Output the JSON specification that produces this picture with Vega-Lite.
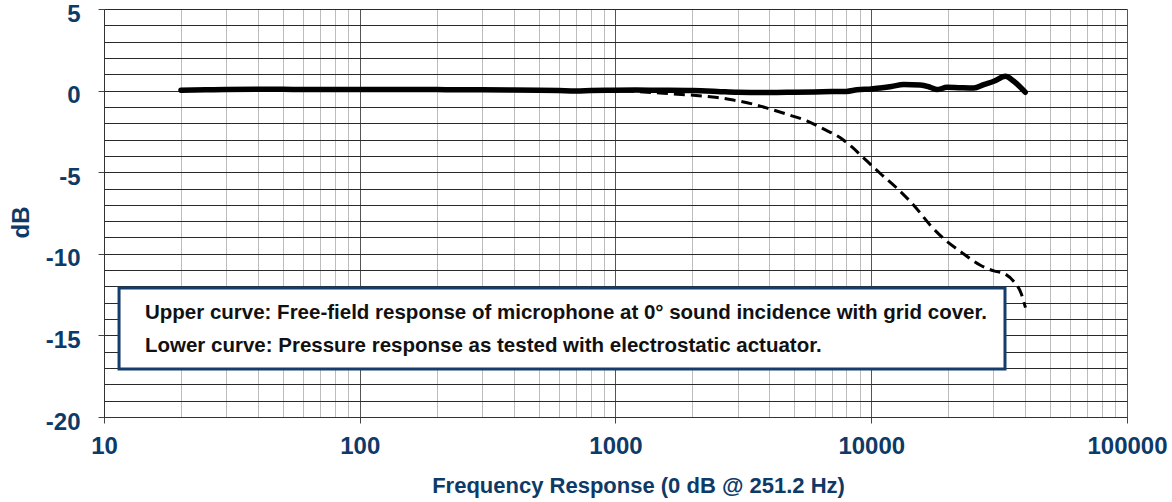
{
  "$schema": "https://vega.github.io/schema/vega-lite/v6.json",
  "width": 1023,
  "height": 408,
  "autosize": {"type": "none"},
  "padding": {"left": 104, "top": 9, "right": 45, "bottom": 85},
  "background": "white",
  "config": {"view": {"stroke": null}, "font": "Liberation Sans, sans-serif"},
  "datasets": {
    "curves": [
      {"curve": "upper", "freq": 20, "db": 0.02},
      {"curve": "upper", "freq": 25, "db": 0.05},
      {"curve": "upper", "freq": 30, "db": 0.07},
      {"curve": "upper", "freq": 40, "db": 0.08},
      {"curve": "upper", "freq": 50, "db": 0.08},
      {"curve": "upper", "freq": 60, "db": 0.06},
      {"curve": "upper", "freq": 80, "db": 0.06},
      {"curve": "upper", "freq": 100, "db": 0.07},
      {"curve": "upper", "freq": 150, "db": 0.07},
      {"curve": "upper", "freq": 200, "db": 0.06},
      {"curve": "upper", "freq": 251.2, "db": 0.05},
      {"curve": "upper", "freq": 300, "db": 0.05},
      {"curve": "upper", "freq": 400, "db": 0.04},
      {"curve": "upper", "freq": 500, "db": 0.02},
      {"curve": "upper", "freq": 600, "db": 0.0},
      {"curve": "upper", "freq": 700, "db": -0.02},
      {"curve": "upper", "freq": 800, "db": 0.0},
      {"curve": "upper", "freq": 1000, "db": 0.02},
      {"curve": "upper", "freq": 1200, "db": 0.03},
      {"curve": "upper", "freq": 1500, "db": 0.02},
      {"curve": "upper", "freq": 2000, "db": 0.0},
      {"curve": "upper", "freq": 2500, "db": -0.05},
      {"curve": "upper", "freq": 3000, "db": -0.1},
      {"curve": "upper", "freq": 4000, "db": -0.12},
      {"curve": "upper", "freq": 5000, "db": -0.1},
      {"curve": "upper", "freq": 6000, "db": -0.08},
      {"curve": "upper", "freq": 7000, "db": -0.06},
      {"curve": "upper", "freq": 8000, "db": -0.05},
      {"curve": "upper", "freq": 8800, "db": 0.05},
      {"curve": "upper", "freq": 10000, "db": 0.1},
      {"curve": "upper", "freq": 10840, "db": 0.16},
      {"curve": "upper", "freq": 12000, "db": 0.25},
      {"curve": "upper", "freq": 13390, "db": 0.37},
      {"curve": "upper", "freq": 15560, "db": 0.35},
      {"curve": "upper", "freq": 17020, "db": 0.2},
      {"curve": "upper", "freq": 18070, "db": 0.06},
      {"curve": "upper", "freq": 19770, "db": 0.2},
      {"curve": "upper", "freq": 22000, "db": 0.18},
      {"curve": "upper", "freq": 25170, "db": 0.16},
      {"curve": "upper", "freq": 27550, "db": 0.37},
      {"curve": "upper", "freq": 30150, "db": 0.57},
      {"curve": "upper", "freq": 33480, "db": 0.88},
      {"curve": "upper", "freq": 36090, "db": 0.57},
      {"curve": "upper", "freq": 40000, "db": -0.1},
      {"curve": "lower", "freq": 20, "db": 0.02},
      {"curve": "lower", "freq": 50, "db": 0.06},
      {"curve": "lower", "freq": 100, "db": 0.06},
      {"curve": "lower", "freq": 200, "db": 0.05},
      {"curve": "lower", "freq": 500, "db": 0.02},
      {"curve": "lower", "freq": 1000, "db": 0.0},
      {"curve": "lower", "freq": 1200, "db": -0.05},
      {"curve": "lower", "freq": 1492, "db": -0.15},
      {"curve": "lower", "freq": 1954, "db": -0.27},
      {"curve": "lower", "freq": 2500, "db": -0.42},
      {"curve": "lower", "freq": 2890, "db": -0.58},
      {"curve": "lower", "freq": 3500, "db": -0.85},
      {"curve": "lower", "freq": 4020, "db": -1.13},
      {"curve": "lower", "freq": 4800, "db": -1.5},
      {"curve": "lower", "freq": 5600, "db": -1.86},
      {"curve": "lower", "freq": 6500, "db": -2.35},
      {"curve": "lower", "freq": 7570, "db": -2.89},
      {"curve": "lower", "freq": 8400, "db": -3.45},
      {"curve": "lower", "freq": 9330, "db": -4.12},
      {"curve": "lower", "freq": 10800, "db": -5.05},
      {"curve": "lower", "freq": 12600, "db": -5.98},
      {"curve": "lower", "freq": 14800, "db": -7.1},
      {"curve": "lower", "freq": 17020, "db": -8.25},
      {"curve": "lower", "freq": 19190, "db": -9.07},
      {"curve": "lower", "freq": 22500, "db": -9.9},
      {"curve": "lower", "freq": 26720, "db": -10.7},
      {"curve": "lower", "freq": 30150, "db": -11.05},
      {"curve": "lower", "freq": 32980, "db": -11.2},
      {"curve": "lower", "freq": 36090, "db": -11.7},
      {"curve": "lower", "freq": 38500, "db": -12.4},
      {"curve": "lower", "freq": 40090, "db": -13.3}
    ]
  },
  "layer": [
    {
      "data": {"name": "curves"},
      "transform": [{"filter": "datum.curve === 'lower'"}],
      "mark": {"type": "line", "color": "black", "strokeWidth": 3, "strokeDash": [11, 6], "interpolate": "monotone"},
      "encoding": {
        "x": {
          "field": "freq",
          "type": "quantitative",
          "scale": {"type": "log", "domain": [10, 100000], "nice": false},
          "axis": {
            "title": "Frequency Response (0 dB @ 251.2 Hz)",
            "titleFont": "Liberation Sans, sans-serif",
            "titleFontSize": 22,
            "titleFontWeight": "bold",
            "titleColor": "#0e3a68",
            "titleX": 534,
            "titleY": 68,
            "titleAlign": "center",
            "titleBaseline": "middle",
            "values": [10, 20, 30, 40, 50, 60, 70, 80, 90, 100, 200, 300, 400, 500, 600, 700, 800, 900, 1000, 2000, 3000, 4000, 5000, 6000, 7000, 8000, 9000, 10000, 20000, 30000, 40000, 50000, 60000, 70000, 80000, 90000, 100000],
            "tickCount": 500,
            "labelExpr": "abs(log(datum.value)/LN10 - round(log(datum.value)/LN10)) < 0.001 ? '' + datum.value : ''",
            "labelFont": "Liberation Sans, sans-serif",
            "labelFontSize": 24,
            "labelFontWeight": "bold",
            "labelColor": "#0e3a68",
            "labelBaseline": "top",
            "labelPadding": 11,
            "labelOverlap": false,
            "labelFlush": false,
            "labelBound": false,
            "grid": true,
            "gridColor": {"condition": {"test": "abs(log(datum.value)/LN10 - round(log(datum.value)/LN10)) < 0.001", "value": "#555555"}, "value": "#bdbdbd"},
            "gridWidth": 1,
            "gridOpacity": 1,
            "ticks": true,
            "tickSize": 6,
            "tickColor": "#444",
            "tickOpacity": {"condition": {"test": "abs(log(datum.value)/LN10 - round(log(datum.value)/LN10)) < 0.001", "value": 1}, "value": 0},
            "domain": true,
            "domainColor": "#333",
            "domainWidth": 1
          }
        },
        "y": {
          "field": "db",
          "type": "quantitative",
          "scale": {"domain": [-20, 5], "nice": false, "zero": false},
          "axis": {
            "title": "dB",
            "titleFont": "Liberation Sans, sans-serif",
            "titleFontSize": 24,
            "titleFontWeight": "bold",
            "titleColor": "#0e3a68",
            "titleAngle": 270,
            "titleX": -83,
            "titleY": 213,
            "titleAlign": "center",
            "titleBaseline": "middle",
            "values": [-20, -19, -18, -17, -16, -15, -14, -13, -12, -11, -10, -9, -8, -7, -6, -5, -4, -3, -2, -1, 0, 1, 2, 3, 4, 5],
            "tickCount": 500,
            "labelExpr": "datum.value % 5 === 0 ? '' + datum.value : ''",
            "labelFont": "Liberation Sans, sans-serif",
            "labelFontSize": 24,
            "labelFontWeight": "bold",
            "labelColor": "#0e3a68",
            "labelBaseline": "middle",
            "labelOffset": 5,
            "labelPadding": 18,
            "labelOverlap": false,
            "labelFlush": false,
            "labelBound": false,
            "grid": true,
            "gridColor": "#2a2a2a",
            "gridWidth": 1,
            "gridOpacity": 1,
            "ticks": true,
            "tickSize": 6,
            "tickColor": "#444",
            "tickOpacity": {"condition": {"test": "datum.value % 5 === 0", "value": 1}, "value": 0},
            "domain": true,
            "domainColor": "#333",
            "domainWidth": 1
          }
        }
      }
    },
    {
      "data": {"name": "curves"},
      "transform": [{"filter": "datum.curve === 'upper'"}],
      "mark": {"type": "line", "color": "black", "strokeWidth": 5.5, "strokeCap": "round", "strokeJoin": "round", "interpolate": "monotone"},
      "encoding": {
        "x": {"field": "freq", "type": "quantitative"},
        "y": {"field": "db", "type": "quantitative"}
      }
    },
    {
      "data": {"values": [{}]},
      "mark": {"type": "rect", "fill": "white", "stroke": "#153d6b", "strokeWidth": 3},
      "encoding": {
        "x": {"datum": 11.45},
        "x2": {"datum": 33340},
        "y": {"datum": -12.1},
        "y2": {"datum": -17.06}
      }
    },
    {
      "data": {"values": [
        {"line": "Upper curve: Free-field response of microphone at 0° sound incidence with grid cover.", "order": 1},
        {"line": "Lower curve: Pressure response as tested with electrostatic actuator.", "order": 2}
      ]},
      "transform": [{"filter": "datum.order === 1"}],
      "mark": {"type": "text", "align": "left", "baseline": "middle", "font": "Liberation Sans, sans-serif", "fontSize": 20.5, "fontWeight": "bold", "color": "#111"},
      "encoding": {
        "x": {"datum": 14.46},
        "y": {"datum": -13.63},
        "text": {"field": "line"}
      }
    },
    {
      "data": {"values": [
        {"line": "Upper curve: Free-field response of microphone at 0° sound incidence with grid cover.", "order": 1},
        {"line": "Lower curve: Pressure response as tested with electrostatic actuator.", "order": 2}
      ]},
      "transform": [{"filter": "datum.order === 2"}],
      "mark": {"type": "text", "align": "left", "baseline": "middle", "font": "Liberation Sans, sans-serif", "fontSize": 20.5, "fontWeight": "bold", "color": "#111"},
      "encoding": {
        "x": {"datum": 14.46},
        "y": {"datum": -15.65},
        "text": {"field": "line"}
      }
    }
  ]
}
